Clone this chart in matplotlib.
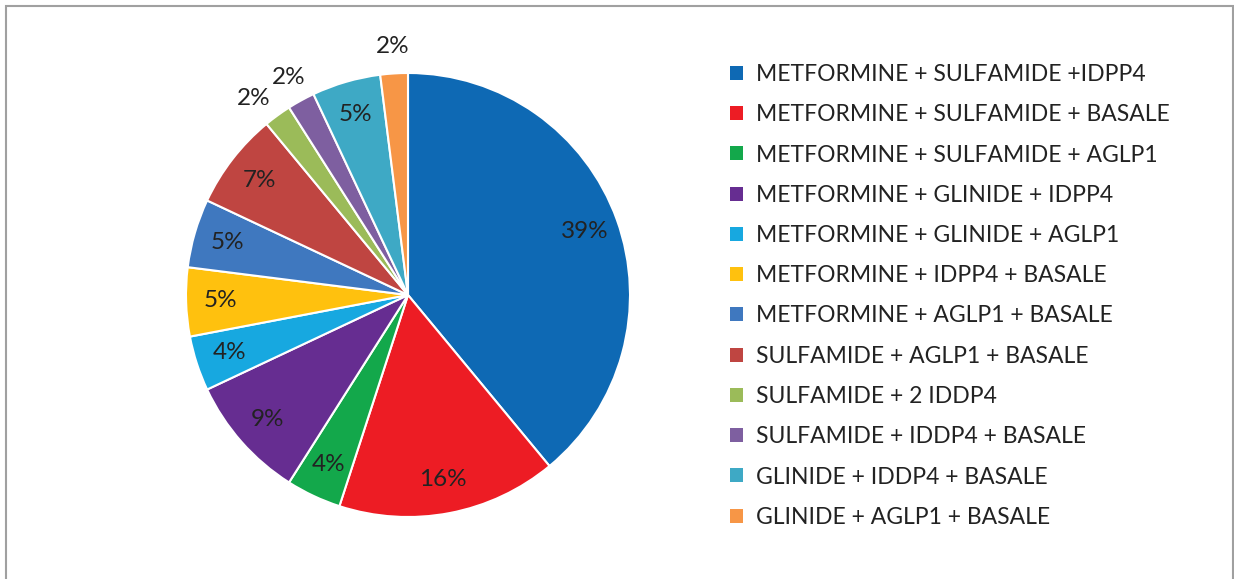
import matplotlib
matplotlib.use("Agg")
import matplotlib.pyplot as plt
from matplotlib.patches import Rectangle
import numpy as np

plt.rcParams['font.family'] = ['Lato', 'DejaVu Sans']

categories = [
    "METFORMINE + SULFAMIDE +IDPP4",
    "METFORMINE + SULFAMIDE + BASALE",
    "METFORMINE + SULFAMIDE + AGLP1",
    "METFORMINE + GLINIDE + IDPP4",
    "METFORMINE + GLINIDE + AGLP1",
    "METFORMINE + IDPP4 + BASALE",
    "METFORMINE + AGLP1 + BASALE",
    "SULFAMIDE + AGLP1 + BASALE",
    "SULFAMIDE + 2 IDDP4",
    "SULFAMIDE + IDDP4 + BASALE",
    "GLINIDE + IDDP4 + BASALE",
    "GLINIDE + AGLP1 + BASALE",
]
values = [39, 16, 4, 9, 4, 5, 5, 7, 2, 2, 5, 2]
colors = ["#0E69B4", "#ED1C24", "#13A84B", "#662D91", "#17A8E0", "#FFC10E",
          "#3F78BF", "#BF4541", "#9BBB59", "#7E5FA0", "#3EA9C5", "#F79646"]

W, H = 1234, 579
fig = plt.figure(figsize=(W / 100, H / 100), dpi=100)

# border
fig.add_artist(Rectangle((5.5 / W, -0.01), (1233 - 5.5) / W, (H - 6.5) / H + 0.01,
                         transform=fig.transFigure, fill=False,
                         edgecolor="#A0A0A0", linewidth=1.5))

cx, cy, r = 408, 295, 222
ax = fig.add_axes([(cx - r) / W, (H - cy - r) / H, 2 * r / W, 2 * r / H])
wedges, _ = ax.pie(values, colors=colors, startangle=90, counterclock=False,
                   radius=1.0, wedgeprops=dict(edgecolor="white", linewidth=1.5))
ax.set_xlim(-1, 1)
ax.set_ylim(-1, 1)
ax.set_aspect("equal")
ax.axis("off")

total = sum(values)
# label box size in radius units (approx 34 x 22 px)
bw, bh = 34 / r, 22 / r
placed = []  # outside labels: list of [angle_deg, dist]
items = []
for w, v in zip(wedges, values):
    mid = (w.theta1 + w.theta2) / 2
    items.append((mid, v))

outside = [i for i, (m, v) in enumerate(items) if v <= 2]
pos = {}
for i, (mid, v) in enumerate(items):
    if v <= 2:
        pos[i] = [mid, 1.12]
    else:
        pos[i] = [mid, 0.845]

# simple collision avoidance among outside labels (push earlier one away)
def xy(p):
    a = np.deg2rad(p[0])
    return p[1] * np.cos(a), p[1] * np.sin(a)

for k in range(len(outside) - 1):
    i, j = outside[k], outside[k + 1]
    for _ in range(60):
        xi, yi = xy(pos[i])
        xj, yj = xy(pos[j])
        if abs(xi - xj) >= bw or abs(yi - yj) >= bh:
            break
        pos[i][0] += 0.5  # rotate counterclockwise (away from next label)
        pos[i][1] += 0.0015

for i, (mid, v) in enumerate(items):
    x, y = xy(pos[i])
    ax.text(x, y, f"{round(100 * v / total)}%",
            ha="center", va="center", fontsize=17.5, color="#222222", clip_on=False)

handles = [Rectangle((0, 0), 1, 1, facecolor=c, edgecolor="none") for c in colors]
fig.legend(handles, categories, loc="upper left",
           bbox_to_anchor=(730 / W, 1 - 64 / H), frameon=False,
           fontsize=16.5, handlelength=0.55, handleheight=0.55, handletextpad=0.6,
           labelspacing=0.84, borderaxespad=0, borderpad=0, labelcolor="#222222")

fig.savefig("out.png", dpi=100, facecolor="white")
